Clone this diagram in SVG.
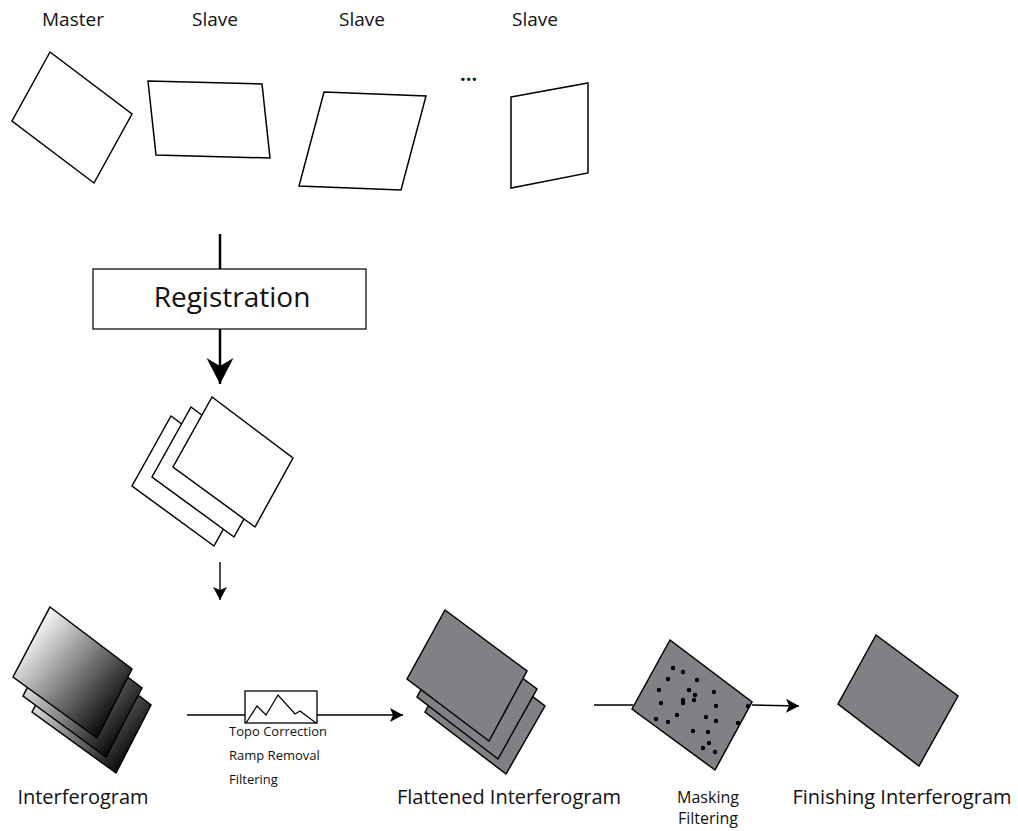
<svg xmlns="http://www.w3.org/2000/svg" width="1018" height="831" viewBox="0 0 1018 831">
  <style>
    .lbl { font-family: "Open Sans", "Liberation Sans", sans-serif; fill: #111; }
    .sheet { fill: #fff; stroke: #000; stroke-width: 1.5; stroke-linejoin: miter; }
    .grey { fill: #808184; stroke: #000; stroke-width: 1.5; }
    .ifg { fill: url(#ifgGrad); stroke: #000; stroke-width: 1.5; }
    .conn { fill: none; stroke: #000; stroke-width: 1.4; }
    .thick { fill: none; stroke: #000; stroke-width: 2.5; }
    .dot { fill: #000; }
  </style>
  <defs>
    <linearGradient id="ifgGrad" x1="0.05" y1="0.25" x2="0.8" y2="0.95">
      <stop offset="0" stop-color="#ffffff"/>
      <stop offset="1" stop-color="#000000"/>
    </linearGradient>
    <marker id="arrow" markerUnits="userSpaceOnUse" markerWidth="14" markerHeight="14" refX="13" refY="7" orient="auto">
      <path d="M0,0 L13,7 L0,14 L3,7 Z" fill="#000"/>
    </marker>
    <marker id="bigArrow" markerUnits="userSpaceOnUse" markerWidth="28" markerHeight="28" refX="26" refY="14" orient="auto">
      <path d="M0,0.5 L26,14 L0,27.5 L8,14 Z" fill="#000"/>
    </marker>
  </defs>

  <rect width="1018" height="831" fill="#fff"/>

  <!-- input scenes -->
  <g id="master">
    <text class="lbl" x="73" y="26" font-size="19" text-anchor="middle">Master</text>
    <polygon class="sheet" points="50,52 132,114 94,183 12,121"/>
  </g>
  <g id="slave1">
    <text class="lbl" x="215" y="26" font-size="19" text-anchor="middle">Slave</text>
    <polygon class="sheet" points="148,81 262,84 270,158 156,155"/>
  </g>
  <g id="slave2">
    <text class="lbl" x="362" y="26" font-size="19" text-anchor="middle">Slave</text>
    <polygon class="sheet" points="324,92 426,96 401,190 299,186"/>
  </g>
  <g id="ellipsis">
    <text class="lbl" x="460" y="81" font-size="20" font-weight="bold">...</text>
  </g>
  <g id="slave3">
    <text class="lbl" x="535" y="26" font-size="19" text-anchor="middle">Slave</text>
    <polygon class="sheet" points="511,97 588,83 588,173 511,188"/>
  </g>

  <!-- registration step -->
  <g id="registration">
    <rect x="93" y="269" width="273" height="60" fill="#fff" stroke="#000" stroke-width="1.2"/>
    <text class="lbl" x="232" y="307" font-size="28" text-anchor="middle">Registration</text>
  </g>

  <!-- co-registered stack -->
  <g id="registered-stack">
    <polygon class="sheet" points="171,416 252,477 214,546 132,486"/>
    <polygon class="sheet" points="191,407 272,468 234,537 152,477"/>
    <polygon class="sheet" points="212,397 293,458 255,527 173,467"/>
  </g>

  <!-- interferogram stack -->
  <g id="interferogram">
    <polygon class="ifg" points="69,642 151,705 116,773 32,712"/>
    <polygon class="ifg" points="60,626 142,688 106,757 23,696"/>
    <polygon class="ifg" points="50,607 132,669 97,738 13,677"/>
    <text class="lbl" x="83" y="804" font-size="20" text-anchor="middle">Interferogram</text>
  </g>

  <!-- topo correction icon -->
  <g id="topo">
    <rect x="245" y="691" width="72" height="32" fill="#fff" stroke="#000" stroke-width="1.3"/>
    <polyline points="246,723 257,706 266,715 278,695 295,714 300,711 316,723" fill="none" stroke="#000" stroke-width="1.3"/>
    <text class="lbl" x="229" y="736" font-size="13">Topo Correction</text>
    <text class="lbl" x="229" y="760" font-size="13">Ramp Removal</text>
    <text class="lbl" x="229" y="784" font-size="13">Filtering</text>
  </g>

  <!-- flattened interferogram stack -->
  <g id="flattened">
    <polygon class="grey" points="463,644 545,706 506,774 425,712"/>
    <polygon class="grey" points="455,628 537,689 498,759 417,697"/>
    <polygon class="grey" points="445,610 527,671 489,741 407,679"/>
    <text class="lbl" x="509" y="804" font-size="20" text-anchor="middle">Flattened Interferogram</text>
  </g>

  <!-- masking / filtering -->
  <g id="masking">
    <polygon class="grey" points="670,640 752,702 715,770 632,709"/>
    <g class="dot">
      <circle cx="673" cy="668" r="2.2"/>
      <circle cx="683" cy="672" r="2.2"/>
      <circle cx="668" cy="679" r="2.2"/>
      <circle cx="697" cy="680" r="2.2"/>
      <circle cx="659" cy="690" r="2.2"/>
      <circle cx="689" cy="690" r="2.2"/>
      <circle cx="714" cy="692" r="2.2"/>
      <circle cx="695" cy="695" r="2.2"/>
      <circle cx="683" cy="700" r="2.2"/>
      <circle cx="683" cy="703" r="2.2"/>
      <circle cx="694" cy="700" r="2.2"/>
      <circle cx="661" cy="703" r="2.2"/>
      <circle cx="716" cy="706" r="2.2"/>
      <circle cx="748" cy="706" r="2.2"/>
      <circle cx="677" cy="715" r="2.2"/>
      <circle cx="706" cy="717" r="2.2"/>
      <circle cx="656" cy="719" r="2.2"/>
      <circle cx="668" cy="722" r="2.2"/>
      <circle cx="716" cy="721" r="2.2"/>
      <circle cx="738" cy="723" r="2.2"/>
      <circle cx="693" cy="731" r="2.2"/>
      <circle cx="708" cy="732" r="2.2"/>
      <circle cx="709" cy="743" r="2.2"/>
      <circle cx="703" cy="748" r="2.2"/>
      <circle cx="715" cy="752" r="2.2"/>
    </g>
    <text class="lbl" x="708" y="803" font-size="16" text-anchor="middle">Masking</text>
    <text class="lbl" x="708" y="824" font-size="16" text-anchor="middle">Filtering</text>
  </g>

  <!-- final product -->
  <g id="finishing">
    <polygon class="grey" points="876,635 958,696 919,766 838,704"/>
    <text class="lbl" x="902" y="804" font-size="20" text-anchor="middle">Finishing Interferogram</text>
  </g>

  <!-- connectors -->
  <g id="connectors">
    <line class="thick" x1="220" y1="234" x2="220" y2="269"/>
    <line class="thick" x1="220" y1="329" x2="220" y2="384" marker-end="url(#bigArrow)"/>
    <line class="conn" x1="220" y1="562" x2="220" y2="600" marker-end="url(#arrow)"/>
    <line class="conn" x1="187" y1="715" x2="245" y2="715"/>
    <line class="conn" x1="317" y1="715" x2="403" y2="715" marker-end="url(#arrow)"/>
    <line class="conn" x1="594" y1="705" x2="633" y2="705"/>
    <line class="conn" x1="752" y1="705" x2="799" y2="706" marker-end="url(#arrow)"/>
  </g>
</svg>
